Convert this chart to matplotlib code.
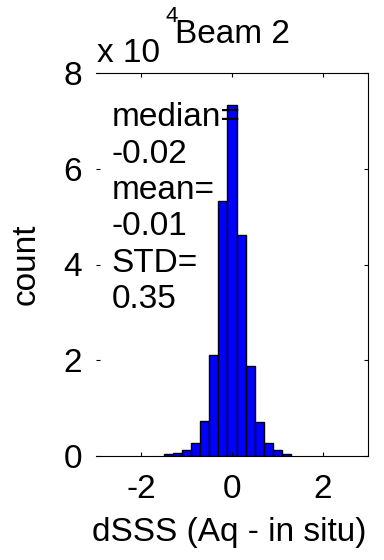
import numpy as np
import matplotlib
matplotlib.use("Agg")
import matplotlib.pyplot as plt

plt.rcParams['font.family'] = ['Liberation Sans', 'DejaVu Sans']
plt.rcParams['axes.unicode_minus'] = False

# histogram of dSSS, bins 0.2 wide
bin_centers = [-1.4, -1.2, -1.0, -0.8, -0.6, -0.4, -0.2, 0.0, 0.2, 0.4, 0.6, 0.8, 1.0, 1.2]
counts = [350, 700, 1200, 2800, 7400, 21000, 53200, 73400, 46100, 18900, 7000, 2800, 1200, 350]
bin_width = 0.2

xticks = [-2, 0, 2]
yticks = [0, 2, 4, 6, 8]
stats_text = "median=\n-0.02\nmean=\n-0.01\nSTD=\n0.35"

FS = 24
W, H = 384, 560
fig = plt.figure(figsize=(W / 100, H / 100), dpi=100)
ax = fig.add_axes([96 / W, 1 - 456 / H, 272 / W, 383 / H])

scaled = np.array(counts) / 1e4
ax.bar(bin_centers, scaled, width=bin_width, color='#0000ff',
       edgecolor='black', linewidth=1.0)

ax.set_xlim(-3, 3)
ax.set_ylim(0, 8)
ax.set_xticks(xticks)
ax.set_yticks(yticks)
ax.tick_params(direction='in', length=3, width=0.8, labelsize=FS,
               top=True, right=True)
ax.tick_params(axis='x', pad=13)
ax.tick_params(axis='y', pad=10)
ax.spines['left'].set_visible(False)
for s in ['top', 'right', 'bottom']:
    ax.spines[s].set_linewidth(0.8)

ax.set_xlabel('dSSS (Aq - in situ)', fontsize=FS)
ax.set_ylabel('count', fontsize=FS)
ax.xaxis.set_label_coords(0.49, -0.158)
ax.yaxis.set_label_coords(-0.2, 0.5)

ax.text(0.058, 0.923, stats_text, transform=ax.transAxes, fontsize=FS,
        va='top', ha='left', linespacing=1.22)

fig.text(232 / W, 1 - 43 / H, 'Beam 2', fontsize=FS, ha='center', va='baseline')
fig.text(97 / W, 1 - 62 / H, 'x 10', fontsize=FS, ha='left', va='baseline')
fig.text(166 / W, 1 - 22 / H, '4', fontsize=16, ha='left', va='baseline')

fig.savefig('out.png', dpi=100)
